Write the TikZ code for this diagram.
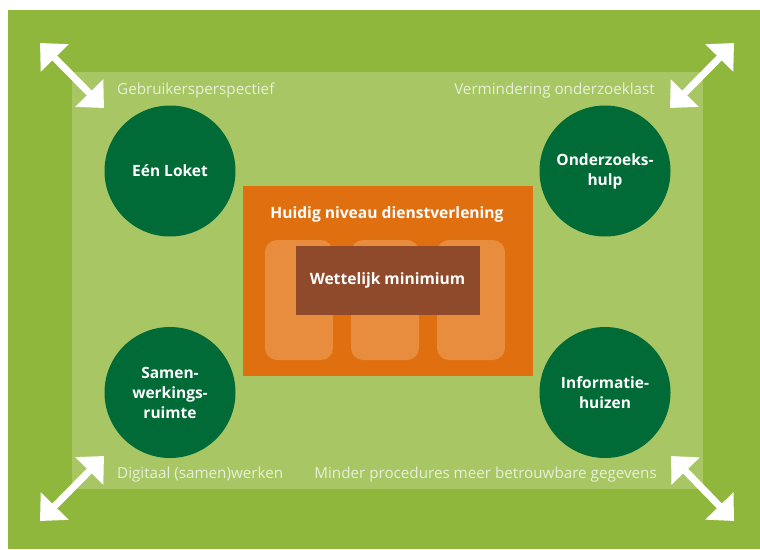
\documentclass[tikz,border=0pt]{standalone}
\usepackage{fontspec}
\setmainfont{Open Sans}
\usetikzlibrary{shapes,arrows.meta}
\definecolor{grasgroen}{HTML}{8EB73B}
\definecolor{lichtgroen}{HTML}{A8C764}
\definecolor{donkergroen}{HTML}{006B37}
\definecolor{oranje}{HTML}{E0700F}
\definecolor{lichtoranje}{HTML}{E88C3E}
\definecolor{bruin}{HTML}{8F4A2B}
\definecolor{labeltekst}{HTML}{E6EFD8}
\tikzstyle{frame} = [rectangle, inner sep=0pt]
\tikzstyle{theme} = [circle, fill=donkergroen, text=white, minimum size=131pt,
inner sep=0pt, align=center, font=\bfseries\fontsize{15.5}{20}\selectfont]
\tikzstyle{pillar} = [rectangle, rounded corners=12pt, fill=lichtoranje,
minimum width=68pt, minimum height=120pt]
\tikzstyle{caption} = [text=labeltekst, inner sep=0pt, font=\fontsize{15.2}{18}\selectfont]
\tikzstyle{heading} = [text=white, inner sep=0pt, font=\bfseries\fontsize{15.6}{18}\selectfont]
\tikzstyle{wide} = [draw=white, line width=7pt, <->]

\begin{document}
\begin{tikzpicture}[x=1pt, y=-1pt, node distance=2cm, >={Triangle[length=21pt,width=38pt]}]
\useasboundingbox (0,0) rectangle (760,549);

% We start with the two frames
\node [frame, fill=grasgroen, minimum width=752pt, minimum height=539pt] (outer) at (384,279.5) {};
\node [frame, fill=lichtgroen, minimum width=631pt, minimum height=417pt] (inner) at (387.5,280.5) {};

% The orange block sits in the middle, with three pillars and the minimum on top
\node [frame, fill=oranje, minimum width=290pt, minimum height=190pt] (huidig) at (inner) {};
\node [heading] (titel) at (387,214) {Huidig niveau dienstverlening};
\node [pillar] (zuil1) at (299,300) {};
\node [pillar, right of=zuil1, node distance=86pt] (zuil2) {};
\node [pillar, right of=zuil2, node distance=86pt] (zuil3) {};
\node [frame, fill=bruin, minimum width=184pt, minimum height=69pt, heading] (minimum) at (huidig) {Wettelijk minimium};

% The four themes in the corners
\node [theme] (loket) at (170,171) {Eén Loket};
\node [theme, right of=loket, node distance=435pt] (hulp) {Onderzoeks-\\hulp};
\node [theme, below of=loket, node distance=221.5pt] (samen) {Samen-\\werkings-\\ruimte};
\node [theme, right of=samen, node distance=435pt] (huizen) {Informatie-\\huizen};

% Captions along the inner frame
\node [caption, anchor=west] (gebruiker) at (117,91) {Gebruikersperspectief};
\node [caption, anchor=east] (last) at (655,91) {Vermindering onderzoeklast};
\node [caption, anchor=west] (digitaal) at (117,475) {Digitaal (samen)werken};
\node [caption, anchor=east] (procedures) at (657,475) {Minder procedures meer betrouwbare gegevens};

% End points of the corner arrows
\coordinate (lbuiten) at (40,43);
\coordinate (lbinnen) at (104,108);
\coordinate (rbuiten) at (734,43);
\coordinate (rbinnen) at (670,108);
\coordinate (loonder) at (40,521);
\coordinate (loboven) at (104,456);
\coordinate (roonder) at (734,521);
\coordinate (roboven) at (671,456);
\draw [wide] (lbuiten) -- (lbinnen);
\draw [wide] (rbuiten) -- (rbinnen);
\draw [wide] (loonder) -- (loboven);
\draw [wide] (roonder) -- (roboven);
\end{tikzpicture}
\end{document}
